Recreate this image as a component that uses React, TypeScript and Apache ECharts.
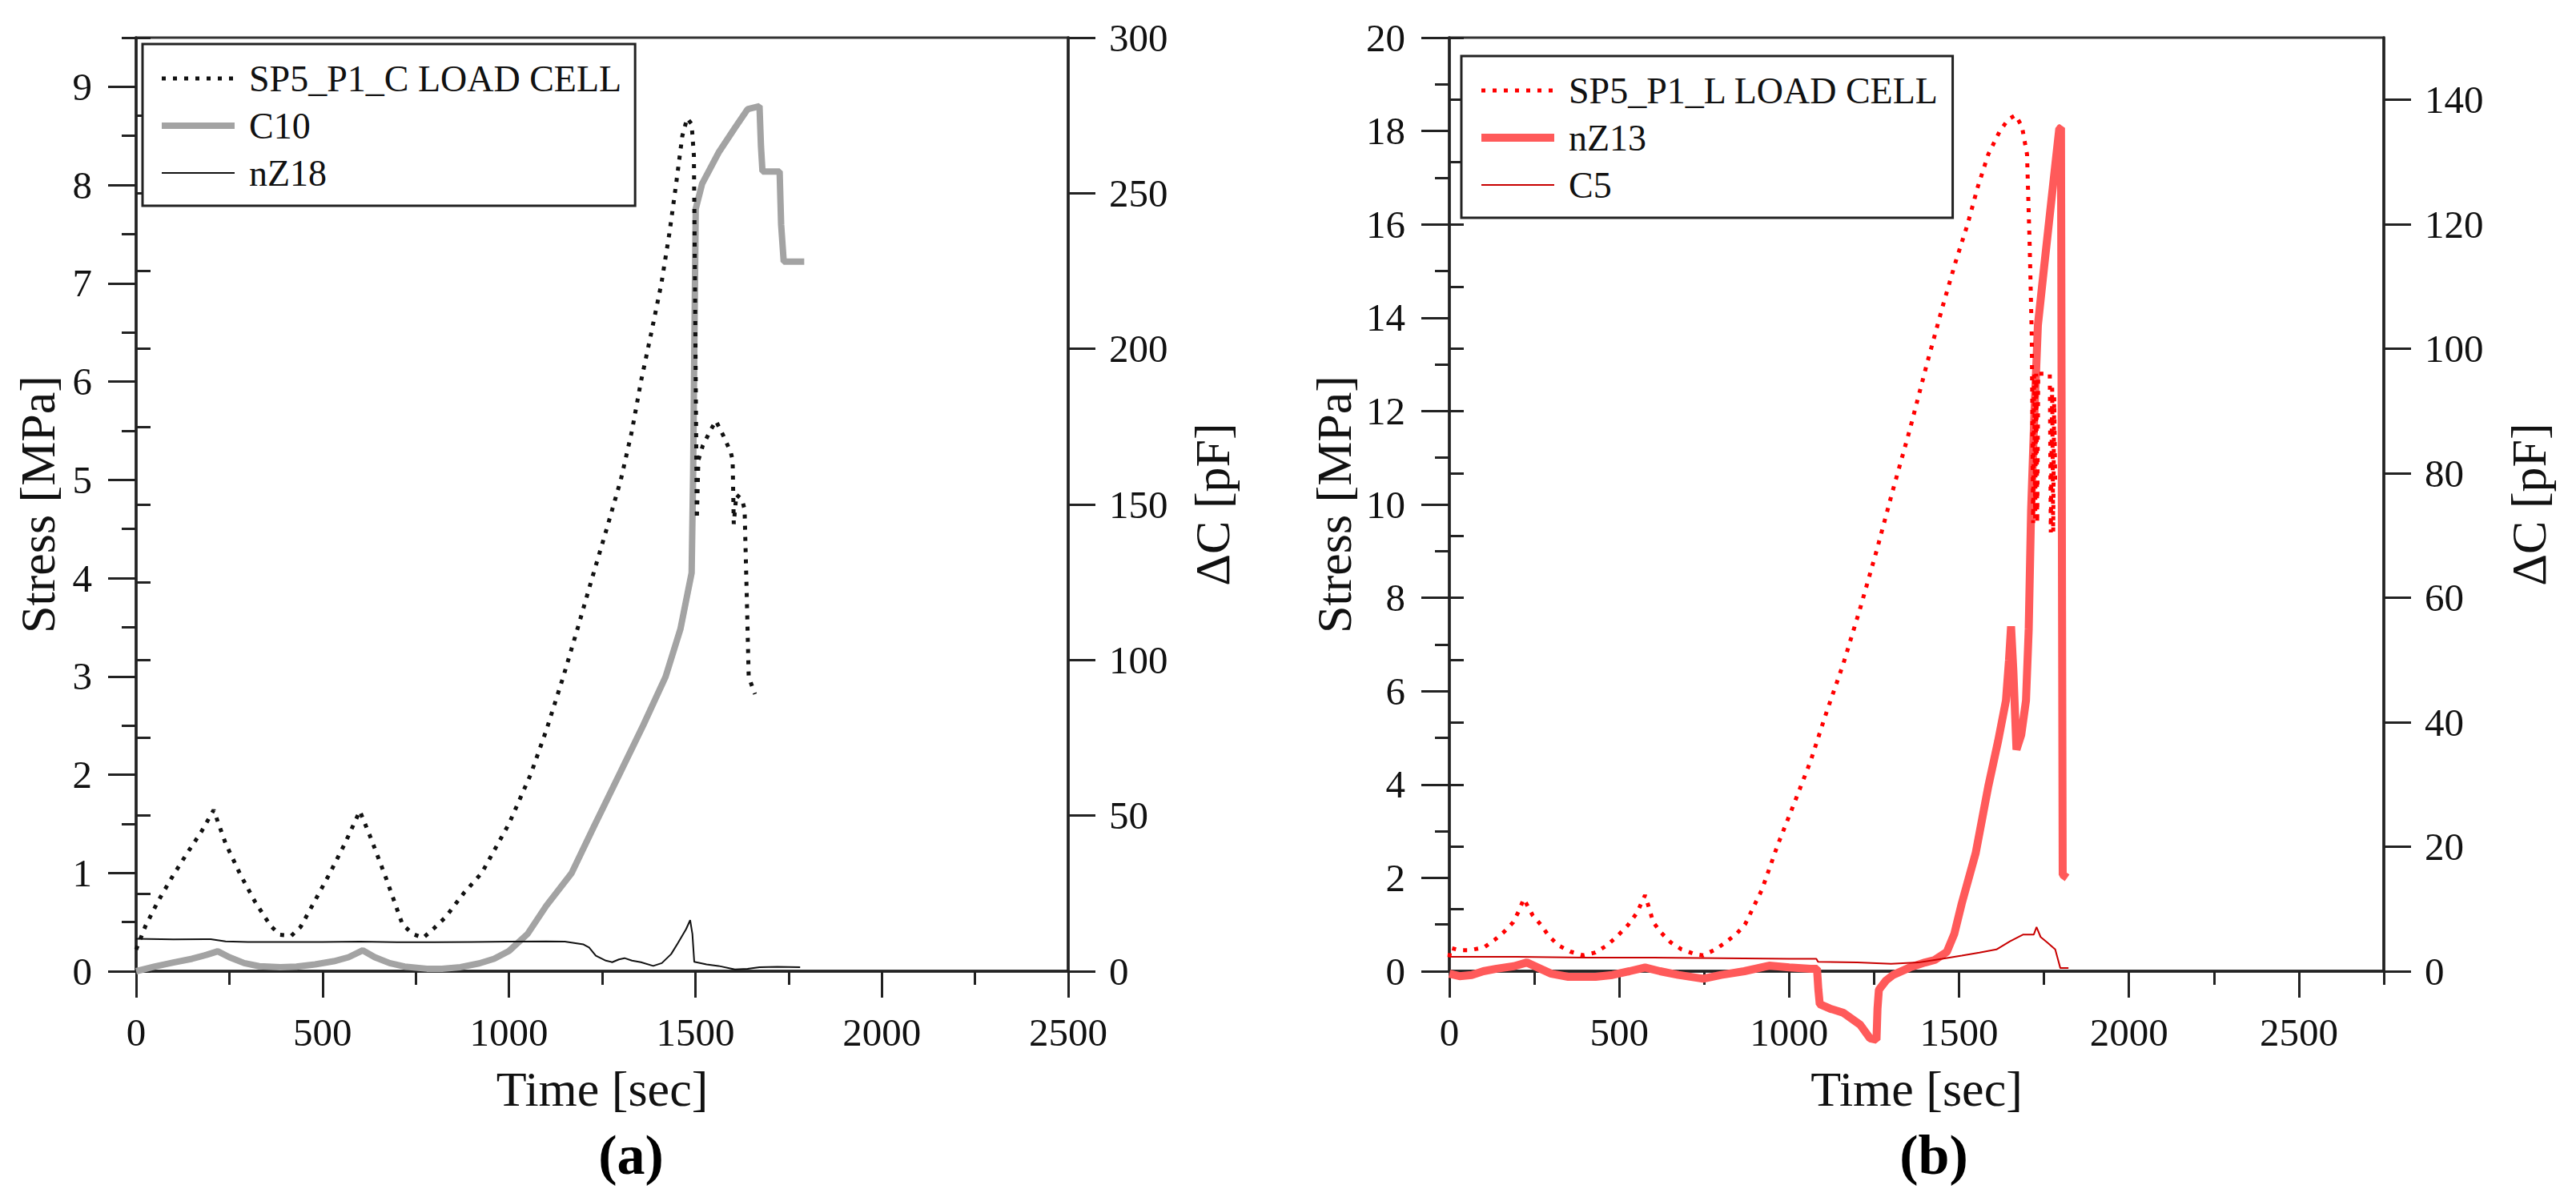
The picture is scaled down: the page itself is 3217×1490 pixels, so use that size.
import React, { useEffect, useRef } from 'react';
import * as echarts from 'echarts';

const FONT = 'Liberation Serif';

// ---------- Panel (a) data ----------
const loadCellA: [number, number][] = [
  [0, 0.22], [25, 0.46], [60, 0.72], [100, 0.98], [140, 1.22], [175, 1.42], [208, 1.64],
  [240, 1.3], [280, 0.98], [320, 0.7], [361, 0.46], [386, 0.37], [416, 0.36], [441, 0.45],
  [480, 0.72], [520, 1.0], [560, 1.3], [600, 1.63], [630, 1.35], [670, 0.95], [714, 0.48],
  [741, 0.38], [770, 0.34], [797, 0.43], [830, 0.55], [880, 0.8], [927, 1.0], [1000, 1.5],
  [1058, 2.0], [1100, 2.45], [1146, 3.0], [1185, 3.5], [1223, 4.0], [1262, 4.5], [1300, 5.0],
  [1330, 5.5], [1354, 6.0], [1382, 6.5], [1409, 7.0], [1430, 7.5], [1448, 8.0], [1465, 8.5],
  [1478, 8.68], [1490, 8.62], [1496, 8.3], [1499, 7.0], [1502, 5.5], [1504, 4.6], [1508, 5.2],
  [1520, 5.35], [1540, 5.5], [1555, 5.6], [1575, 5.45], [1595, 5.28], [1600, 5.2], [1603, 4.55],
  [1610, 4.85], [1625, 4.8], [1632, 4.7], [1638, 3.8], [1643, 3.0], [1652, 2.9], [1660, 2.82],
];

const c10A: [number, number][] = [
  [0, 0], [50, 1.5], [100, 2.8], [150, 4.0], [190, 5.3], [219, 6.4], [250, 4.5], [290, 2.6],
  [330, 1.6], [387, 1.3], [430, 1.5], [480, 2.2], [530, 3.2], [570, 4.5], [608, 6.7], [640, 4.5],
  [680, 2.6], [720, 1.5], [780, 0.8], [820, 0.8], [870, 1.3], [920, 2.5], [960, 4.0], [1000, 6.5],
  [1050, 12], [1100, 21], [1168, 31.5], [1230, 47], [1295, 63], [1360, 79], [1420, 94.6],
  [1460, 110], [1480, 122], [1490, 128], [1494, 160], [1498, 210], [1501, 245], [1518, 253],
  [1562, 263], [1606, 271], [1640, 277], [1672, 278], [1676, 265], [1680, 257], [1726, 257],
  [1730, 240], [1737, 228], [1792, 228],
];

const nz18A: [number, number][] = [
  [0, 10.4], [100, 10.2], [200, 10.3], [240, 9.6], [300, 9.4], [400, 9.4], [500, 9.4], [600, 9.5],
  [700, 9.3], [800, 9.3], [900, 9.4], [1000, 9.5], [1100, 9.6], [1150, 9.5], [1200, 8.6],
  [1215, 7.6], [1233, 5.0], [1260, 3.4], [1277, 2.9], [1295, 3.8], [1310, 4.2], [1330, 3.4],
  [1354, 2.9], [1387, 1.7], [1410, 2.6], [1435, 5.5], [1453, 9.0], [1475, 13.5], [1486, 16.4],
  [1492, 12], [1497, 3.0], [1530, 2.2], [1562, 1.7], [1606, 0.6], [1640, 0.8], [1672, 1.3],
  [1720, 1.4], [1781, 1.3],
];

// ---------- Panel (b) data ----------
const loadCellB: [number, number][] = [
  [0, 0.3], [3, 0.5], [30, 0.45], [60, 0.45], [102, 0.51], [133, 0.67], [162, 0.85], [188, 1.05],
  [205, 1.3], [219, 1.55], [245, 1.2], [271, 0.98], [293, 0.75], [322, 0.55], [356, 0.42],
  [394, 0.34], [430, 0.4], [463, 0.55], [494, 0.75], [526, 0.99], [552, 1.25], [576, 1.63],
  [590, 1.3], [600, 1.05], [624, 0.82], [651, 0.62], [683, 0.47], [720, 0.37], [747, 0.34],
  [784, 0.47], [815, 0.63], [845, 0.8], [870, 1.0], [920, 1.75], [966, 2.7], [1015, 3.6],
  [1063, 4.5], [1110, 5.55], [1160, 6.6], [1210, 7.8], [1257, 9.0], [1305, 10.3], [1355, 11.6],
  [1405, 13.0], [1452, 14.25], [1490, 15.2], [1525, 16.0], [1555, 16.8], [1586, 17.5],
  [1620, 18.0], [1645, 18.25], [1666, 18.34], [1685, 18.1], [1700, 17.5], [1708, 15.5],
  [1714, 13.6], [1718, 9.6], [1721, 12.8], [1724, 9.7], [1727, 12.8], [1730, 9.6], [1733, 12.8],
  [1745, 12.8], [1767, 12.8], [1770, 9.4], [1774, 12.5], [1777, 9.4], [1780, 12.3], [1783, 10.4],
];

const nz13B: [number, number][] = [
  [0, -0.4], [30, -0.8], [66, -0.6], [100, 0.0], [139, 0.4], [190, 0.8], [228, 1.4], [260, 0.6],
  [300, -0.4], [350, -0.9], [430, -0.9], [480, -0.6], [530, 0.0], [576, 0.6], [620, 0.0],
  [674, -0.6], [747, -1.2], [800, -0.6], [868, 0.0], [941, 0.9], [1000, 0.6], [1063, 0.4],
  [1082, 0.4], [1086, -3], [1090, -5.3], [1120, -6.0], [1160, -6.7], [1209, -8.6], [1238, -10.8],
  [1257, -11], [1260, -6], [1264, -3], [1285, -1.5], [1306, -0.6], [1355, 0.6], [1400, 1.4],
  [1428, 1.8], [1464, 3.1], [1486, 6], [1508, 10.9], [1549, 19], [1586, 29.7], [1615, 37],
  [1638, 43.5], [1647, 50], [1653, 55.4], [1660, 48], [1669, 35.6], [1683, 38], [1697, 43.5],
  [1705, 55], [1712, 74], [1722, 90], [1732, 103.8], [1750, 113], [1767, 121.5], [1782, 129],
  [1795, 135.4], [1800, 135.5], [1803, 60], [1805, 15.5], [1818, 15],
];

const c5B: [number, number][] = [
  [0, 2.3], [200, 2.3], [400, 2.2], [600, 2.2], [800, 2.1], [1000, 2.0], [1080, 2.0], [1085, 1.5],
  [1200, 1.4], [1300, 1.2], [1380, 1.4], [1450, 2.0], [1508, 2.5], [1560, 3.0], [1610, 3.5],
  [1650, 4.8], [1689, 5.9], [1720, 5.9], [1728, 7.1], [1740, 5.5], [1760, 4.6], [1783, 3.5],
  [1798, 0.5], [1822, 0.5],
];

// ---------- Tick labels ----------
const timeTicksA = [0, 500, 1000, 1500, 2000, 2500];
const stressTicksA = [0, 1, 2, 3, 4, 5, 6, 7, 8, 9];
const dcTicksA = [0, 50, 100, 150, 200, 250, 300];
const timeTicksB = [0, 500, 1000, 1500, 2000, 2500];
const stressTicksB = [0, 2, 4, 6, 8, 10, 12, 14, 16, 18, 20];
const dcTicksB = [0, 20, 40, 60, 80, 100, 120, 140];

const namesA = ['SP5_P1_C LOAD CELL', 'C10', 'nZ18'];
const namesB = ['SP5_P1_L LOAD CELL', 'nZ13', 'C5'];

const TXT = '#111';
const AX = '#222';

const DOT = [5, 9];
const styleA = {
  load: { color: '#111', width: 5, type: DOT },
  c10: { color: '#a3a3a3', width: 8 },
  nz18: { color: '#111', width: 2 },
};
const styleB = {
  load: { color: '#ff0000', width: 5, type: DOT },
  nz13: { color: '#ff5a5a', width: 10 },
  c5: { color: '#c80000', width: 2 },
};

function majorAxis(o: any) {
  const { ticks, tickLen, margin, name, nameGap, ...rest } = o;
  return {
    type: 'value',
    ...rest,
    axisLine: { show: true, onZero: false, lineStyle: { color: AX, width: 3.5 } },
    axisTick: { show: true, length: tickLen, customValues: ticks, lineStyle: { color: AX, width: 3 } },
    axisLabel: {
      show: true,
      customValues: ticks,
      margin,
      fontFamily: FONT,
      fontSize: 49,
      color: TXT,
      formatter: (v: number) => (ticks.indexOf(v) >= 0 ? String(v) : ''),
    },
    splitLine: { show: false },
    name,
    nameLocation: 'middle',
    nameGap,
    nameTextStyle: { fontFamily: FONT, fontSize: 62, color: TXT },
  };
}

function minorAxis(o: any) {
  const { tickLen, ...rest } = o;
  return {
    type: 'value',
    ...rest,
    axisLine: { show: false },
    axisTick: { show: true, length: tickLen, lineStyle: { color: AX, width: 3 } },
    axisLabel: { show: false },
    splitLine: { show: false },
  };
}

function legend(items: { name: string; ls: any }[], left: number, top: number) {
  return {
    orient: 'vertical',
    left,
    top,
    data: items.map((it) => ({ name: it.name, lineStyle: { ...it.ls } })),
    itemWidth: 91,
    itemHeight: 46,
    itemGap: 13,
    padding: [20, 17, 18, 20],
    borderColor: '#222',
    borderWidth: 3,
    backgroundColor: '#fff',
    selectedMode: false,
    itemStyle: { opacity: 0 },
    textStyle: { fontFamily: FONT, fontSize: 46, color: TXT, lineHeight: 46, padding: [0, 0, 0, 13] },
  };
}

export default function App() {
  const ref = useRef<HTMLDivElement>(null);
  useEffect(() => {
    if (!ref.current) return;
    const chart = echarts.init(ref.current, undefined, { renderer: 'svg' });
    const option: any = {
      animation: false,
      backgroundColor: '#fff',
      grid: [
        { left: 170, top: 47, width: 1164, height: 1166, show: true, borderColor: '#333', borderWidth: 3, backgroundColor: 'transparent' },
        { left: 1810, top: 47, width: 1167, height: 1166, show: true, borderColor: '#333', borderWidth: 3, backgroundColor: 'transparent' },
      ],
      xAxis: [
        majorAxis({ gridIndex: 0, position: 'bottom', min: 0, max: 2500, interval: 500, ticks: timeTicksA, tickLen: 33, margin: 52, name: 'Time [sec]', nameGap: 116 }),
        minorAxis({ gridIndex: 0, position: 'bottom', min: 0, max: 2500, interval: 250, tickLen: 17 }),
        majorAxis({ gridIndex: 1, position: 'bottom', min: 0, max: 2750, interval: 500, ticks: timeTicksB, tickLen: 33, margin: 52, name: 'Time [sec]', nameGap: 116 }),
        minorAxis({ gridIndex: 1, position: 'bottom', min: 0, max: 2750, interval: 250, tickLen: 17 }),
      ],
      yAxis: [
        majorAxis({ gridIndex: 0, position: 'left', min: 0, max: 9.5, interval: 1, ticks: stressTicksA, tickLen: 35, margin: 55, name: 'Stress [MPa]', nameGap: 92 }),
        minorAxis({ gridIndex: 0, position: 'left', min: 0, max: 9.5, interval: 0.5, tickLen: 18 }),
        majorAxis({ gridIndex: 0, position: 'right', min: 0, max: 300, interval: 50, ticks: dcTicksA, tickLen: 34, margin: 51, name: 'ΔC [pF]', nameGap: 149 }),
        minorAxis({ gridIndex: 0, position: 'right', min: 0, max: 300, interval: 25, tickLen: 18 }),
        majorAxis({ gridIndex: 1, position: 'left', min: 0, max: 20, interval: 2, ticks: stressTicksB, tickLen: 35, margin: 55, name: 'Stress [MPa]', nameGap: 113 }),
        minorAxis({ gridIndex: 1, position: 'left', min: 0, max: 20, interval: 1, tickLen: 18 }),
        majorAxis({ gridIndex: 1, position: 'right', min: 0, max: 150, interval: 20, ticks: dcTicksB, tickLen: 34, margin: 51, name: 'ΔC [pF]', nameGap: 150 }),
        minorAxis({ gridIndex: 1, position: 'right', min: 0, max: 150, interval: 10, tickLen: 18 }),
      ],
      legend: [
        legend([
          { name: namesA[0], ls: styleA.load },
          { name: namesA[1], ls: styleA.c10 },
          { name: namesA[2], ls: styleA.nz18 },
        ], 178, 55),
        legend([
          { name: namesB[0], ls: styleB.load },
          { name: namesB[1], ls: styleB.nz13 },
          { name: namesB[2], ls: styleB.c5 },
        ], 1825, 70),
      ],
      series: [
        {
          name: namesA[1], type: 'line', xAxisIndex: 0, yAxisIndex: 2, data: c10A, symbol: 'none',
          lineStyle: styleA.c10, itemStyle: { color: styleA.c10.color },
        },
        {
          name: namesA[2], type: 'line', xAxisIndex: 0, yAxisIndex: 2, data: nz18A, symbol: 'none',
          lineStyle: styleA.nz18, itemStyle: { color: styleA.nz18.color },
        },
        {
          name: namesA[0], type: 'line', xAxisIndex: 0, yAxisIndex: 0, data: loadCellA, symbol: 'none',
          lineStyle: styleA.load, itemStyle: { color: styleA.load.color },
        },
        {
          name: namesB[1], type: 'line', xAxisIndex: 2, yAxisIndex: 6, data: nz13B, symbol: 'none', clip: false,
          lineStyle: styleB.nz13, itemStyle: { color: styleB.nz13.color },
        },
        {
          name: namesB[2], type: 'line', xAxisIndex: 2, yAxisIndex: 6, data: c5B, symbol: 'none',
          lineStyle: styleB.c5, itemStyle: { color: styleB.c5.color },
        },
        {
          name: namesB[0], type: 'line', xAxisIndex: 2, yAxisIndex: 4, data: loadCellB, symbol: 'none',
          lineStyle: styleB.load, itemStyle: { color: styleB.load.color },
        },
      ],
      graphic: [
        { type: 'text', x: 788, y: 1442, style: { text: '(a)', font: `bold 70px ${FONT}`, fill: '#000', align: 'center', verticalAlign: 'middle' } },
        { type: 'text', x: 2415, y: 1442, style: { text: '(b)', font: `bold 70px ${FONT}`, fill: '#000', align: 'center', verticalAlign: 'middle' } },
      ],
    };
    chart.setOption(option);
    return () => chart.dispose();
  }, []);
  return (
    <div
      ref={ref}
      style={{ position: 'absolute', left: 0, top: 0, width: 3217, height: 1490, background: '#fff' }}
    />
  );
}
